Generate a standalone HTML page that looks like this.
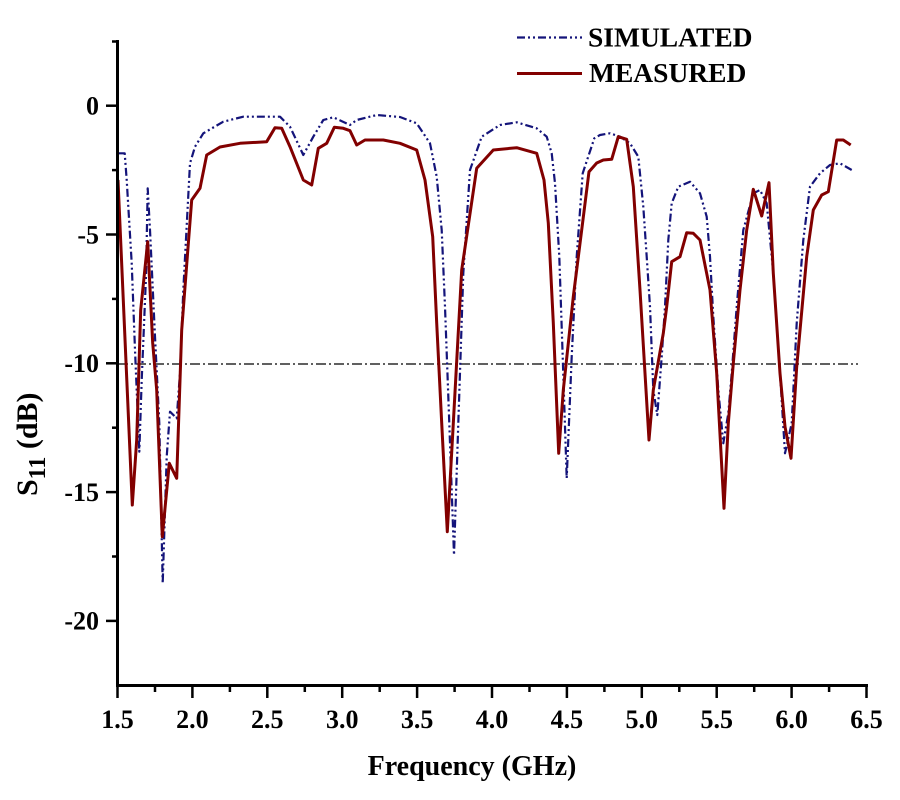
<!DOCTYPE html>
<html>
<head>
<meta charset="utf-8">
<style>
  html, body { margin:0; padding:0; background:#fff; }
  svg { display:block; }
  text { font-family: "Liberation Serif", "Times New Roman", serif; font-weight: bold; fill:#000; }
</style>
</head>
<body>
<svg width="900" height="800" viewBox="0 0 900 800" xmlns="http://www.w3.org/2000/svg">
  <rect x="0" y="0" width="900" height="800" fill="#fff"/>

  <!-- -10 dB reference line -->
  <line x1="118" y1="364" x2="858" y2="364" stroke="#000" stroke-width="1.2" stroke-dasharray="10,3,2,3"/>

  <!-- Simulated -->
  <polyline fill="none" stroke="#14147a" stroke-width="2.2" stroke-dasharray="8,3,2,3,2,3" stroke-linejoin="round"
    points="118.3,153.3 124.7,153.3 126.7,180 131.7,263 135,350 139.3,451.7 141.7,380 146,276.7 147.7,188.3 150,230 155,336.7 159.3,423 162.7,583.3 166.7,456.7 170,411.7 176.7,418.3 180,373 183.3,290 190,163.3 195,146.7 203.3,133.3 223.3,121.7 243.3,116.7 253.3,116.7 280,116.7 290,126.7 303.3,155 313.3,136.7 323.3,120 333.3,117.3 350,125 356.7,120 376.7,115 400,117 416.7,123.3 430,143.3 436.7,176.7 441.7,230 445,306.7 449.3,423.3 454,555 458.3,423.3 463.3,273.3 470,170 481.7,136.7 500,125 516.7,122.3 536.7,128.3 546.7,136.7 551.7,153.3 555,183.3 559.3,256.7 562.7,356.7 566.7,478.3 571.7,356.7 576.7,256.7 582.7,173.3 594.3,138.3 600,135 610,133.3 620,136.7 630,143.3 638.3,156.7 643.3,206.7 646.7,256.7 650,306.7 653.3,390 657.3,415 661.7,356.7 665,306.7 668.3,240 671.7,203.3 678.3,186.7 690,181.7 700,193.3 706.7,216.7 710,256.7 713.3,316.7 718.3,390 723.3,443.3 728.3,413.3 731.7,373.3 736.7,306.7 743.3,230 753.3,193.3 760,190 766.7,203.3 773.3,273.3 780,373.3 785,453.3 791.7,423.3 796.7,323.3 803.3,240 810,186.7 820,173.3 830,165 840,163.3 851.7,170"/>

  <!-- Measured -->
  <polyline fill="none" stroke="#820000" stroke-width="3" stroke-linejoin="round"
    points="118,180 132.3,505 136.7,440 140.7,310 147.7,241.7 152.7,343 156.7,390 162.3,536.7 169.3,463.3 176.7,478.3 181.7,330 187.3,256.7 191.7,200 200,188.3 206.7,155 220,147 240,143.3 266.7,141.7 275,127.7 281.7,128.3 290,146.7 303.3,180 311.7,185 318.3,148.3 326.7,143.3 334.3,127.3 343.3,128.3 350,130.7 356.7,145 365,140 383.3,140 400,143.3 416.7,150 425,180 432.7,236.7 436.7,323 441.7,423 447.3,531.7 453.3,423.3 461.7,270 476.7,168.3 493.3,150 516.7,147.7 536.7,153.3 544,180 548.3,223 553.3,323 558.7,453.3 563.3,390 573.3,296.7 581.7,230 589,171.7 596.7,163 603.3,160 611.7,159.3 618.3,136.7 626.7,139.3 633.3,186.7 640,290 645,373.3 649,440 653.3,390 663.3,333.3 666.7,306.7 671.7,261.7 680,256.7 686.7,232.7 693.3,233.3 700,240 710,290 716.7,373.3 724,508.3 728.3,423.3 733.3,363.3 740,290 746.7,230 753.3,189.3 761.7,216 769,182.7 773.3,273.3 780,373.3 785,426.7 791,458.3 796.7,366.7 806.7,256.7 813.3,210 821.7,195 828.3,191.7 836.7,140 843.3,140 850.7,145"/>

  <!-- Axes -->
  <g stroke="#000" stroke-width="3" fill="none">
    <line x1="117.5" y1="40" x2="117.5" y2="687"/>
    <line x1="116" y1="685.5" x2="868" y2="685.5"/>
  </g>
  <!-- Y ticks -->
  <g stroke="#000" stroke-width="2.5">
    <line x1="106" y1="105.7" x2="117.5" y2="105.7"/>
    <line x1="106" y1="234.5" x2="117.5" y2="234.5"/>
    <line x1="106" y1="363.3" x2="117.5" y2="363.3"/>
    <line x1="106" y1="492.1" x2="117.5" y2="492.1"/>
    <line x1="106" y1="620.9" x2="117.5" y2="620.9"/>
    <line x1="112" y1="41.5" x2="117.5" y2="41.5"/>
    <line x1="112" y1="170.1" x2="117.5" y2="170.1"/>
    <line x1="112" y1="298.9" x2="117.5" y2="298.9"/>
    <line x1="112" y1="427.7" x2="117.5" y2="427.7"/>
    <line x1="112" y1="556.5" x2="117.5" y2="556.5"/>
  </g>
  <!-- X ticks -->
  <g stroke="#000" stroke-width="2.5">
    <line x1="117.5" y1="685.5" x2="117.5" y2="698"/>
    <line x1="192.4" y1="685.5" x2="192.4" y2="698"/>
    <line x1="267.3" y1="685.5" x2="267.3" y2="698"/>
    <line x1="342.2" y1="685.5" x2="342.2" y2="698"/>
    <line x1="417.1" y1="685.5" x2="417.1" y2="698"/>
    <line x1="492" y1="685.5" x2="492" y2="698"/>
    <line x1="566.9" y1="685.5" x2="566.9" y2="698"/>
    <line x1="641.8" y1="685.5" x2="641.8" y2="698"/>
    <line x1="716.7" y1="685.5" x2="716.7" y2="698"/>
    <line x1="791.6" y1="685.5" x2="791.6" y2="698"/>
    <line x1="866.5" y1="685.5" x2="866.5" y2="698"/>
    <line x1="155" y1="685.5" x2="155" y2="692"/>
    <line x1="229.9" y1="685.5" x2="229.9" y2="692"/>
    <line x1="304.8" y1="685.5" x2="304.8" y2="692"/>
    <line x1="379.7" y1="685.5" x2="379.7" y2="692"/>
    <line x1="454.6" y1="685.5" x2="454.6" y2="692"/>
    <line x1="529.5" y1="685.5" x2="529.5" y2="692"/>
    <line x1="604.4" y1="685.5" x2="604.4" y2="692"/>
    <line x1="679.3" y1="685.5" x2="679.3" y2="692"/>
    <line x1="754.2" y1="685.5" x2="754.2" y2="692"/>
    <line x1="829.1" y1="685.5" x2="829.1" y2="692"/>
  </g>

  <!-- Y tick labels -->
  <g font-size="26" text-anchor="end">
    <text x="99" y="114.5">0</text>
    <text x="99" y="243.3">-5</text>
    <text x="99" y="372.1">-10</text>
    <text x="99" y="500.9">-15</text>
    <text x="99" y="629.7">-20</text>
  </g>
  <!-- X tick labels -->
  <g font-size="26" text-anchor="middle">
    <text x="117.5" y="728">1.5</text>
    <text x="192.4" y="728">2.0</text>
    <text x="267.3" y="728">2.5</text>
    <text x="342.2" y="728">3.0</text>
    <text x="417.1" y="728">3.5</text>
    <text x="492" y="728">4.0</text>
    <text x="566.9" y="728">4.5</text>
    <text x="641.8" y="728">5.0</text>
    <text x="716.7" y="728">5.5</text>
    <text x="791.6" y="728">6.0</text>
    <text x="866.5" y="728">6.5</text>
  </g>

  <!-- Axis titles -->
  <text x="472" y="775" font-size="28" text-anchor="middle">Frequency (GHz)</text>
  <text transform="translate(37,496) rotate(-90)" font-size="30">S<tspan font-size="24" dy="8">11</tspan><tspan dy="-8"> (dB)</tspan></text>

  <!-- Legend -->
  <line x1="517" y1="37.5" x2="582" y2="37.5" stroke="#14147a" stroke-width="2.2" stroke-dasharray="8,3,2,3,2,3"/>
  <text x="588" y="46.5" font-size="27.5">SIMULATED</text>
  <line x1="517" y1="73.5" x2="582" y2="73.5" stroke="#820000" stroke-width="3"/>
  <text x="589" y="82" font-size="27.5">MEASURED</text>
</svg>
</body>
</html>
